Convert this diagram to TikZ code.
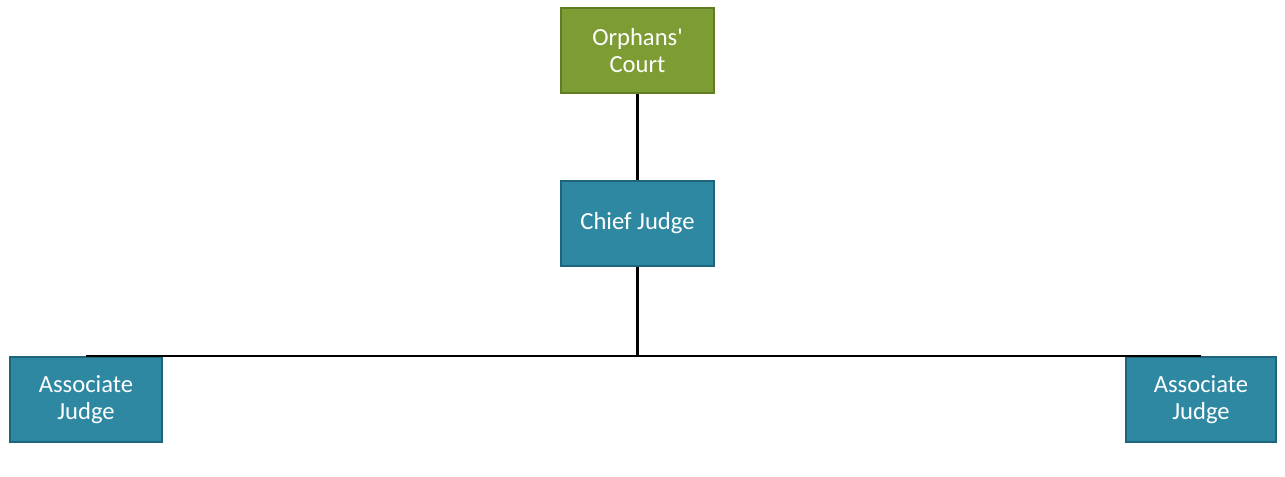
\documentclass[tikz,border=0pt]{standalone}
\usepackage{fontspec}
\newfontfamily\orgfont{Carlito}
\usepackage{xcolor}
\usepackage{tikz}
\usetikzlibrary{positioning, calc}
\definecolor{courtgreen}{RGB}{125, 156, 52}
\definecolor{courtgreendark}{RGB}{98, 124, 38}
\definecolor{judgeteal}{RGB}{46, 136, 162}
\definecolor{judgetealdark}{RGB}{30, 100, 122}

\tikzset{
    orgbox/.style={rectangle, draw=judgetealdark, fill=judgeteal, line width=1pt, minimum width=3.05cm, minimum height=1.7cm, align=center, text=white, font=\orgfont\fontsize{14}{15}\selectfont},
    courtbox/.style={orgbox, draw=courtgreendark, fill=courtgreen},
    orgline/.style={draw=black, line width=1.4pt}
}

\begin{document}
\begin{tikzpicture}
    \useasboundingbox (0,0) rectangle (25.7,9.52);
    % court and chief judge
    \node[courtbox] (court) at (12.75,8.51) {Orphans'\\Court};
    \node[orgbox] (chief) at (12.75,5.05) {Chief Judge};
    % associate judges
    \node[orgbox] (assocleft) at (1.72,1.53) {Associate\\Judge};
    \node[orgbox, minimum width=3.0cm] (assocright) at (24.02,1.53) {Associate\\Judge};
    % connectors
    \draw[orgline] (court.south) -- (chief.north);
    \draw[orgline] (assocleft.north) -- (assocright.north);
    \draw[orgline] (chief.south) -- (chief.south |- assocleft.north);
\end{tikzpicture}
\end{document}
